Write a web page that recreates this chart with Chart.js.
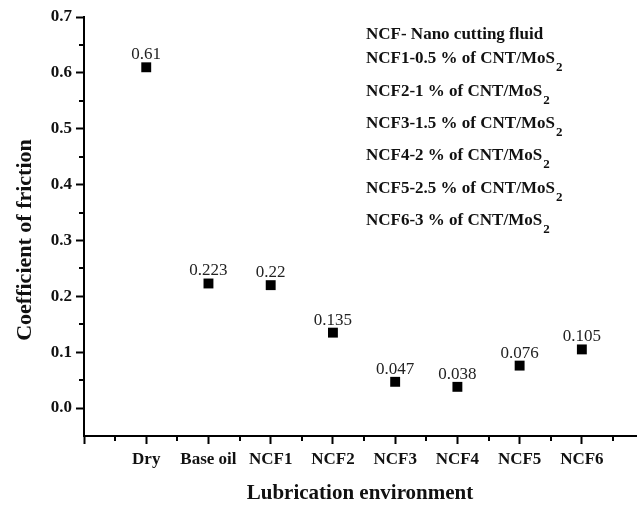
<!DOCTYPE html>
<html>
<head>
<meta charset="utf-8">
<script src="https://cdn.jsdelivr.net/npm/chart.js@4/dist/chart.umd.min.js"></script>
<style>
  html, body { margin: 0; padding: 0; background: #fff; }
  #wrap { width: 643px; height: 506px; }
</style>
</head>
<body>
<div id="wrap"><canvas id="cofChart"></canvas></div>
<script>
// data
const categories = ['Dry', 'Base oil', 'NCF1', 'NCF2', 'NCF3', 'NCF4', 'NCF5', 'NCF6'];
const cofValues = [0.61, 0.223, 0.22, 0.135, 0.047, 0.038, 0.076, 0.105];
const valueLabels = ['0.61', '0.223', '0.22', '0.135', '0.047', '0.038', '0.076', '0.105'];
const yTicks = [0.0, 0.1, 0.2, 0.3, 0.4, 0.5, 0.6, 0.7];
const xTicks = [0, 1, 2, 3, 4, 5, 6, 7, 8];
const yTitle = 'Coefficient of friction';

// note block, top right (text followed by subscript)
const notes = [
  ['NCF- Nano cutting fluid', ''],
  ['NCF1-0.5 % of CNT/MoS', '2'],
  ['NCF2-1 % of CNT/MoS', '2'],
  ['NCF3-1.5 % of CNT/MoS', '2'],
  ['NCF4-2 % of CNT/MoS', '2'],
  ['NCF5-2.5 % of CNT/MoS', '2'],
  ['NCF6-3 % of CNT/MoS', '2']
];

const serif = '"Liberation Serif", "Times New Roman", serif';

const extras = {
  id: 'extras',
  afterDatasetsDraw(chart) {
    const ctx = chart.ctx;
    const meta = chart.getDatasetMeta(0);
    ctx.save();
    ctx.fillStyle = '#222';
    ctx.font = '17px ' + serif;
    ctx.textAlign = 'center';
    ctx.textBaseline = 'alphabetic';
    meta.data.forEach((pt, i) => {
      ctx.fillText(valueLabels[i], pt.x, pt.y - 8);
    });
    ctx.restore();
  },
  afterDraw(chart) {
    const ctx = chart.ctx;
    const x = chart.scales.x, y = chart.scales.y;
    ctx.save();
    ctx.strokeStyle = '#000';
    ctx.lineWidth = 2;
    // minor ticks
    ctx.beginPath();
    for (let k = 0; k < 7; k++) {
      const py = Math.round(y.getPixelForValue(0.05 + 0.1 * k));
      ctx.moveTo(x.left - 5, py);
      ctx.lineTo(x.left, py);
    }
    for (let k = 0; k < 9; k++) {
      const px = Math.round(x.getPixelForValue(0.5 + k));
      ctx.moveTo(px, y.bottom);
      ctx.lineTo(px, y.bottom + 5);
    }
    ctx.stroke();

    // y axis title, sits a bit below the axis middle in the original
    ctx.save();
    ctx.translate(25, 240);
    ctx.rotate(-Math.PI / 2);
    ctx.fillStyle = '#111';
    ctx.font = 'bold 22px ' + serif;
    ctx.textAlign = 'center';
    ctx.textBaseline = 'middle';
    ctx.fillText(yTitle, 0, 0);
    ctx.restore();

    // notes
    ctx.fillStyle = '#111';
    ctx.textAlign = 'left';
    ctx.textBaseline = 'alphabetic';
    const baseY = [39, 63, 96, 128, 160, 193, 225];
    notes.forEach((n, i) => {
      ctx.font = 'bold 17px ' + serif;
      ctx.fillText(n[0], 366, baseY[i]);
      if (n[1]) {
        const w = ctx.measureText(n[0]).width;
        ctx.font = 'bold 13px ' + serif;
        ctx.fillText(n[1], 366 + w + 1, baseY[i] + 8);
      }
    });
    ctx.restore();
  }
};

new Chart(document.getElementById('cofChart'), {
  type: 'scatter',
  data: {
    datasets: [{
      data: cofValues.map((v, i) => ({ x: i + 1, y: v })),
      pointStyle: 'rect',
      pointRadius: 7,
      pointHoverRadius: 7,
      backgroundColor: '#000',
      borderColor: '#000',
      borderWidth: 0
    }]
  },
  options: {
    responsive: true,
    maintainAspectRatio: false,
    animation: false,
    layout: { padding: { top: 17, right: 0, left: 0, bottom: 0 } },
    plugins: {
      legend: { display: false },
      tooltip: { enabled: false }
    },
    scales: {
      x: {
        type: 'linear',
        min: 0,
        max: 8.87,
        afterBuildTicks: s => { s.ticks = xTicks.map(v => ({ value: v })); },
        afterFit: s => { s.height = 70; },
        border: { display: true, color: '#000', width: 2 },
        grid: { display: true, drawOnChartArea: false, tickLength: 8, tickColor: '#000', tickWidth: 2 },
        ticks: {
          autoSkip: false,
          maxRotation: 0,
          padding: 5,
          color: '#111',
          font: { family: serif, size: 17, weight: 'bold' },
          callback: v => categories[v - 1] || ''
        },
        title: {
          display: true,
          text: 'Lubrication environment',
          color: '#111',
          padding: { top: 0, bottom: 0 },
          font: { family: serif, size: 21, weight: 'bold' }
        }
      },
      y: {
        min: -0.05,
        max: 0.7,
        afterBuildTicks: s => { s.ticks = yTicks.map(v => ({ value: v })); },
        afterFit: s => { s.width = 84; },
        border: { display: true, color: '#000', width: 2 },
        grid: { display: true, drawOnChartArea: false, tickLength: 8, tickColor: '#000', tickWidth: 2 },
        ticks: {
          padding: 4,
          color: '#111',
          font: { family: serif, size: 17, weight: 'bold' },
          callback: v => v.toFixed(1)
        },
        title: { display: false }
      }
    }
  },
  plugins: [extras]
});
</script>
</body>
</html>
